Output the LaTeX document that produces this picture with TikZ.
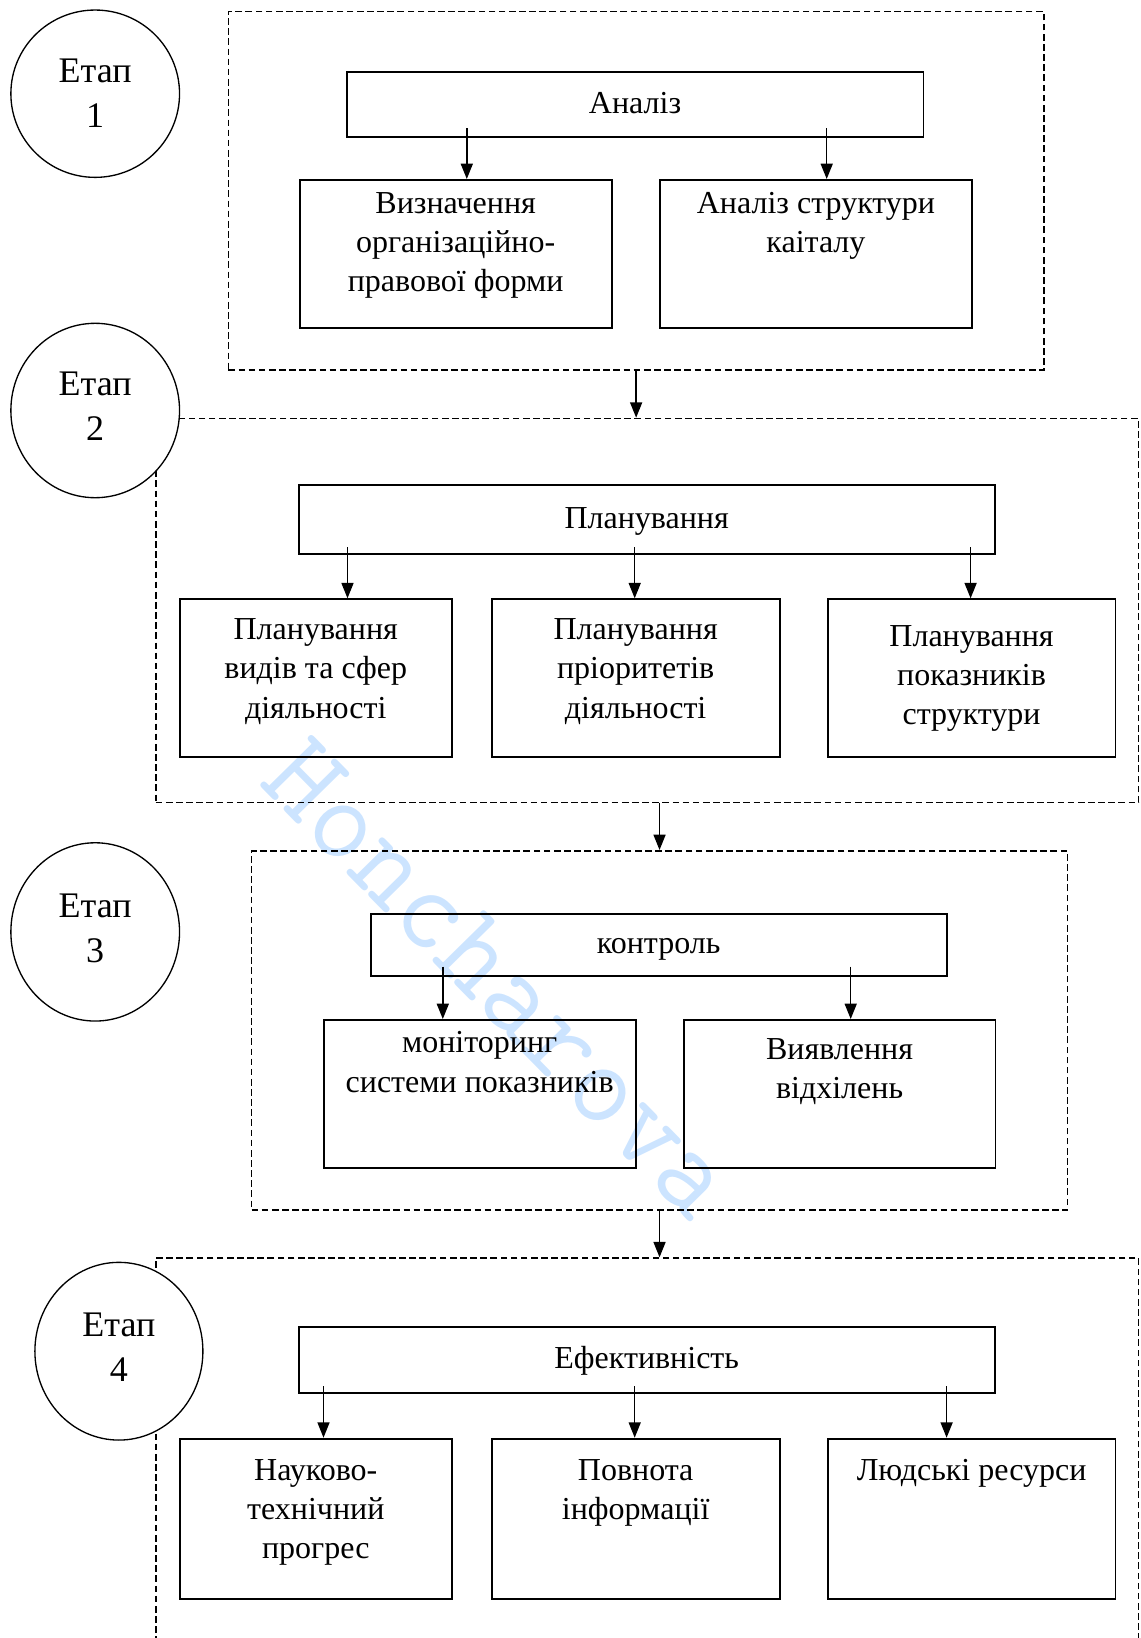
\documentclass[tikz,border=0pt]{standalone}
\usepackage{fontspec}
\setmainfont{Liberation Serif}
\usetikzlibrary{shapes.geometric,arrows.meta,calc}
\definecolor{wmblue}{RGB}{204,228,255}
\begin{document}
\begin{tikzpicture}[x=0.75pt,y=-0.75pt,
  hdrbox/.style={draw, line width=1.4pt, rectangle, inner sep=0pt,
    font=\fontsize{24}{29.4}\selectfont, text height=15.75pt, text depth=2.5pt},
  cbox/.style={draw, line width=1.4pt, rectangle, inner sep=0pt, anchor=north west},
  ctext/.style={font=\fontsize{24}{29.4}\selectfont, align=center, inner sep=0pt,
    anchor=north},
  dbox/.style={draw, line width=1.2pt, dash pattern=on 5pt off 2.6pt, rectangle,
    inner sep=0pt, anchor=north west},
  stagecirc/.style={ellipse, draw, line width=1pt, fill=white, inner sep=0pt,
    align=center, font=\fontsize{27}{33.75}\selectfont},
  arr/.style={line width=1.1pt, -{Triangle[length=11.5pt,width=9pt]}},
]
\useasboundingbox (0,0) rectangle (1140,1638);

% watermark
\node[font=\ttfamily\fontsize{90}{90}\selectfont, text=wmblue, rotate=-45.5, inner sep=0pt]
  (wm) at (500,978) {Honcharova};

% ---------- Stage 1 ----------
\node[dbox, minimum width=611.6pt, minimum height=269pt] (D1) at (227.6,10.7) {};
\node[stagecirc, minimum width=126.5pt, minimum height=125.5pt] (C1) at (95.2,93.7)
  {Етап\\1};
\node[hdrbox, minimum width=432.5pt, minimum height=48.3pt] (A1) at (635.1,104.5) {Аналіз};
\node[cbox, minimum width=233.9pt, minimum height=111.2pt] (A1L) at (298.8,179) {};
\node[cbox, minimum width=234.5pt, minimum height=111.2pt] (A1R) at (658.7,179) {};
\node[ctext] (A1Lt) at ([yshift=-5.1pt]A1L.north) {\strut Визначення\\організаційно-\\правової форми};
\node[ctext] (A1Rt) at ([yshift=-5.1pt]A1R.north) {\strut Аналіз структури\\каіталу};
\coordinate (s11) at (466.8,128);
\coordinate (s12) at (826.7,128);
\draw[arr] (s11) -- (s11 |- A1L.north);
\draw[arr] (s12) -- (s12 |- A1R.north);

% ---------- Stage 2 ----------
\node[dbox, minimum width=737.2pt, minimum height=288pt] (D2) at (154.9,417.7) {};
\node[stagecirc, minimum width=126.5pt, minimum height=130.8pt] (C2) at (95.2,410.5)
  {Етап\\2\rule[-6pt]{0pt}{6pt}};
\node[hdrbox, minimum width=521.9pt, minimum height=51.8pt] (P) at (646.7,519.5) {Планування};
\node[cbox, minimum width=203.9pt, minimum height=118.3pt] (P1) at (178.9,598.3) {};
\node[cbox, minimum width=215.9pt, minimum height=118.3pt] (P2) at (490.8,598.3) {};
\node[cbox, minimum width=215.9pt, minimum height=118.3pt] (P3) at (826.7,598.3) {};
\node[ctext] (P1t) at ([yshift=-10.2pt]P1.north) {\strut Планування\\видів та сфер\\діяльності};
\node[ctext] (P2t) at ([yshift=-10.2pt]P2.north) {\strut Планування\\пріоритетів\\діяльності};
\node[ctext] (P3t) at ([yshift=-15pt]P3.north) {\strut Планування\\показників\\структури};
\coordinate (s21) at (347.5,547);
\coordinate (s22) at (634.7,547);
\coordinate (s23) at (970.6,547);
\draw[arr] (s21) -- (s21 |- P1.north);
\draw[arr] (s22) -- (s22 |- P2.north);
\draw[arr] (s23) -- (s23 |- P3.north);
\draw[arr] (D1.south) -- (D1.south |- D2.north);

% ---------- Stage 3 ----------
\node[dbox, minimum width=611.9pt, minimum height=269.5pt] (D3) at (250.8,850) {};
\node[stagecirc, minimum width=126.5pt, minimum height=133.7pt] (C3) at (95.2,931.9)
  {Етап\\3\rule[-6pt]{0pt}{6pt}};
\node[hdrbox, minimum width=431.9pt, minimum height=46.5pt] (K) at (658.7,945) {контроль};
\node[cbox, minimum width=233.9pt, minimum height=111pt] (K1) at (322.8,1019) {};
\node[cbox, minimum width=233.9pt, minimum height=111pt] (K2) at (682.7,1019) {};
\node[ctext] (K1t) at ([yshift=-4.7pt]K1.north) {\strut моніторинг\\системи показників};
\node[ctext] (K2t) at ([yshift=-9.7pt]K2.north) {\strut Виявлення\\відхілень};
\coordinate (s31) at (442.8,966.7);
\coordinate (s32) at (850.7,966.7);
\draw[arr] (s31) -- (s31 |- K1.north);
\draw[arr] (s32) -- (s32 |- K2.north);
\draw[arr] (D3.north |- D2.south) -- (D3.north);

% ---------- Stage 4 ----------
\node[dbox, minimum width=737.2pt, minimum height=332pt] (D4) at (154.9,1257.3) {};
\node[stagecirc, minimum width=126pt, minimum height=133.3pt] (C4) at (118.9,1351.2)
  {Етап\\4\rule[-6pt]{0pt}{6pt}};
\node[hdrbox, minimum width=521.9pt, minimum height=50pt] (E) at (646.7,1360) {Ефективність};
\node[cbox, minimum width=203.9pt, minimum height=120pt] (E1) at (178.9,1437.7) {};
\node[cbox, minimum width=215.9pt, minimum height=120pt] (E2) at (490.8,1437.7) {};
\node[cbox, minimum width=215.9pt, minimum height=120pt] (E3) at (826.7,1437.7) {};
\node[ctext] (E1t) at ([yshift=-11.2pt]E1.north) {\strut Науково-\\технічний\\прогрес};
\node[ctext] (E2t) at ([yshift=-11.2pt]E2.north) {\strut Повнота\\інформації};
\node[ctext] (E3t) at ([yshift=-11.2pt]E3.north) {\strut Людські ресурси};
\coordinate (s41) at (323.5,1386);
\coordinate (s42) at (634.7,1386);
\coordinate (s43) at (946.6,1386);
\draw[arr] (s41) -- (s41 |- E1.north);
\draw[arr] (s42) -- (s42 |- E2.north);
\draw[arr] (s43) -- (s43 |- E3.north);
\draw[arr] (D3.south) -- (D3.south |- D4.north);
\end{tikzpicture}
\end{document}
